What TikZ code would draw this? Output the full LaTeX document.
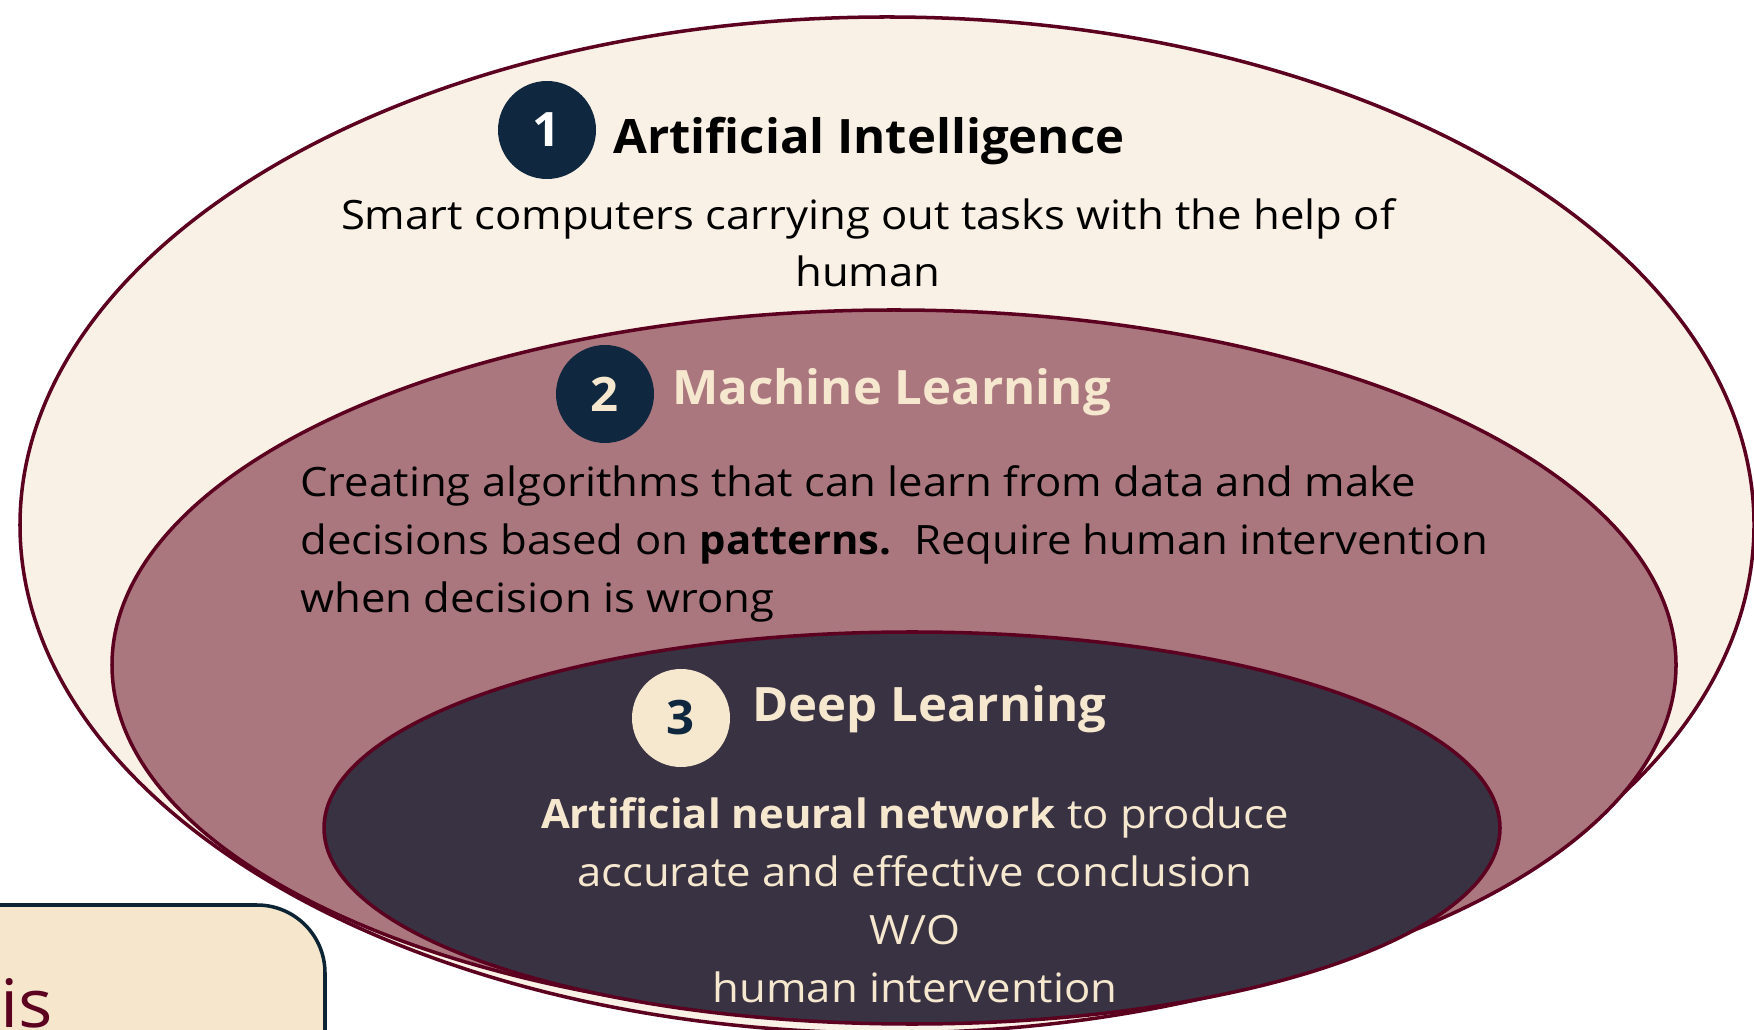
\documentclass[tikz,border=0pt]{standalone}
\usepackage{fontspec}
\setmainfont{Open Sans}[FakeStretch=1.08,BoldFeatures={FakeStretch=1.035}]
\usetikzlibrary{positioning,calc}
\definecolor{aifill}{HTML}{FAF1E6}
\definecolor{mlfill}{HTML}{AB777F}
\definecolor{dlfill}{HTML}{383242}
\definecolor{rim}{HTML}{5C0020}
\definecolor{navy}{HTML}{10283F}
\definecolor{cream}{HTML}{F6E7CF}
\definecolor{panel}{HTML}{F5E6CC}
\definecolor{panelrim}{HTML}{0C2433}

\begin{document}
\begin{tikzpicture}[x=1cm,y=1cm]
      \useasboundingbox (0,0) rectangle (35.08,20.58);
      \clip (0,0) rectangle (35.08,20.58);

      \coordinate (ai) at (17.74,10.08);
      \coordinate (ml) at (17.88,7.28);
      \coordinate (dl) at (18.24,4.02);

      % nested fields
      \draw[line width=2pt,color=rim,fill=aifill] (ai) ellipse (17.34 and 10.16);
      \draw[line width=2pt,color=rim,fill=mlfill] (ml) ellipse (15.64 and 7.10);
      \draw[line width=2pt,color=rim,fill=dlfill] (dl) ellipse (11.76 and 3.92);

      % side panel, only its corner is in view
      \draw[line width=2pt,color=panelrim,fill=panel,rounded corners=1.36cm] (-2,-2) rectangle (6.5,2.48);
      \node[anchor=base west,inner sep=0,font=\fontsize{38}{46}\selectfont,text=rim] (paneltext) at (0.0,0.04) {is};

      \node[circle,fill=navy,minimum size=1.96cm,inner sep=0,font=\fontsize{27}{30}\selectfont\bfseries,text=white] (n1) at (10.94,17.98) {1};
      \node[circle,fill=navy,minimum size=1.96cm,inner sep=0,font=\fontsize{27}{30}\selectfont\bfseries,text=cream] (n2) at (12.10,12.70) {2};
      \node[circle,fill=cream,minimum size=1.96cm,inner sep=0,font=\fontsize{27}{30}\selectfont\bfseries,text=navy] (n3) at (13.62,6.22) {3};

      \node[anchor=base west,inner sep=0,font=\fontsize{27}{32}\selectfont\bfseries] (t1) at ($(n1)+(1.32,-0.48)$) {Artificial Intelligence};
      \node[anchor=base west,inner sep=0,font=\fontsize{27}{32}\selectfont\bfseries,text=cream] (t2) at ($(n2)+(1.34,-0.22)$) {Machine Learning};
      \node[anchor=base west,inner sep=0,font=\fontsize{27}{32}\selectfont\bfseries,text=cream] (t3) at ($(n3)+(1.42,-0.08)$) {Deep Learning};

      \node[anchor=north,align=center,inner sep=0,font=\fontsize{23}{32.5}\selectfont] (d1) at (17.36,16.62) {
        Smart computers carrying out tasks with the help of\\
        human
      };
      \node[anchor=north west,align=left,inner sep=0,font=\fontsize{23}{33}\selectfont] (d2) at (6.00,11.28) {
        Creating algorithms that can learn from data and make\\
        decisions based on \textbf{patterns.}\ \ Require human intervention\\
        when decision is wrong
      };
      \node[anchor=north,align=center,inner sep=0,font=\fontsize{23}{33}\selectfont,text=cream] (d3) at (18.30,4.64) {
        \textbf{Artificial neural network} to produce\\
        accurate and effective conclusion\\
        W/O\\
        human intervention
      };
    \end{tikzpicture}
\end{document}
